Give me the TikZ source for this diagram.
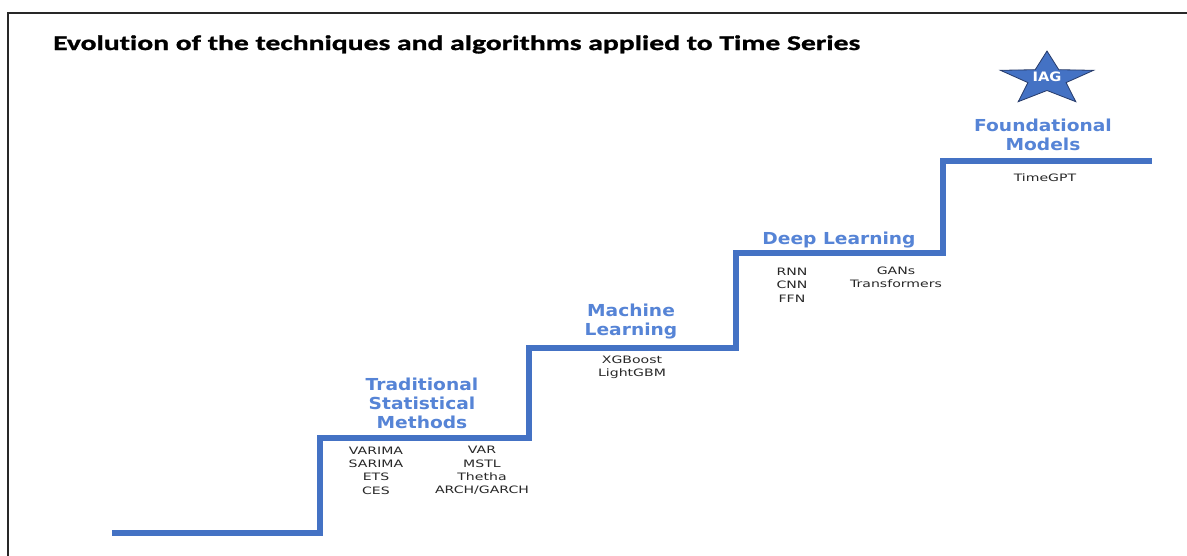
\documentclass[tikz,border=0pt]{standalone}
\usepackage{fontspec}
\setmainfont{DejaVu Sans}
\newfontfamily\titlefont[FakeStretch=1.41,FakeBold=1.2,Ligatures=NoCommon]{Carlito}
\newfontfamily\stagefont[FakeStretch=1.13]{DejaVu Sans}
\newfontfamily\itemfont[FakeStretch=1.38]{DejaVu Sans}

\definecolor{stair}{RGB}{68,114,196}
\definecolor{stagetext}{RGB}{86,132,214}
\definecolor{itemtext}{RGB}{40,40,40}
\definecolor{starline}{RGB}{38,58,105}
\definecolor{framecol}{RGB}{40,40,40}

\tikzset{
  stage/.style={text=stagetext, font=\stagefont\bfseries\fontsize{16.5}{19}\selectfont,
    align=center, inner sep=0pt},
  item/.style={text=itemtext, font=\itemfont\fontsize{10.2}{13.4}\selectfont,
    align=center, inner sep=0pt},
  stairline/.style={draw=stair, line width=6pt, miter limit=10},
}

\begin{document}
\begin{tikzpicture}[x=1pt,y=-1pt]
\useasboundingbox (0,0) rectangle (1187,555);
\fill[white] (0,0) rectangle (1187,555);

% outer frame (left and top edges)
\draw[framecol, line width=1.8pt] (8,570) -- (8,13) -- (1200,13);

% title
\node[anchor=base west, inner sep=0pt, font=\titlefont\bfseries\fontsize{21}{24}\selectfont]
  (title) at (53,50) {Evolution of the techniques and algorithms applied to Time Series};

% staircase corners
\coordinate (s0) at (112,533);
\coordinate (s1) at (320,533);
\coordinate (s2) at (320,438);
\coordinate (s3) at (529,438);
\coordinate (s4) at (529,348);
\coordinate (s5) at (736,348);
\coordinate (s6) at (736,253);
\coordinate (s7) at (943,253);
\coordinate (s8) at (943,161);
\coordinate (s9) at (1152,161);
\draw[stairline] (s0) -- (s1) -- (s2) -- (s3) -- (s4) -- (s5) -- (s6) -- (s7) -- (s8) -- (s9);

% stage titles
\node[stage] (trad) at (422,403) {Traditional\\Statistical\\Methods};
\node[stage] (ml)   at (631,322) {Machine\\Learning};
\node[stage] (dl)   at (839,240) {Deep Learning};
\node[stage] (fm)   at (1043,135) {Foundational\\Models};

% techniques on each step
\node[item] (tradA) at (376,470.5) {VARIMA\\SARIMA\\ETS\\CES};
\node[item] (tradB) at (482,470.5) {VAR\\MSTL\\Thetha\\ARCH/GARCH};
\node[item] (mlA)   at (632,367) {XGBoost\\LightGBM};
\node[item] (dlA)   at (792,285) {RNN\\CNN\\FFN};
\node[item] (dlB)   at (896,277) {GANs\\Transformers};
\node[item] (fmA)   at (1045,178) {TimeGPT};

% star badge
\filldraw[fill=stair, draw=starline, line width=0.8pt, line join=miter]
  (1047,51) -- (1058.8,69.7) -- (1093.6,70.3) -- (1066.1,82.6) -- (1075.8,101.7)
  -- (1047,90.5) -- (1018.2,101.7) -- (1027.9,82.6) -- (1000.4,70.3) -- (1035.2,69.7) -- cycle;
\node[text=white, inner sep=0pt, font=\stagefont\bfseries\fontsize{13}{15}\selectfont]
  (iag) at (1047,77) {IAG};
\end{tikzpicture}
\end{document}
